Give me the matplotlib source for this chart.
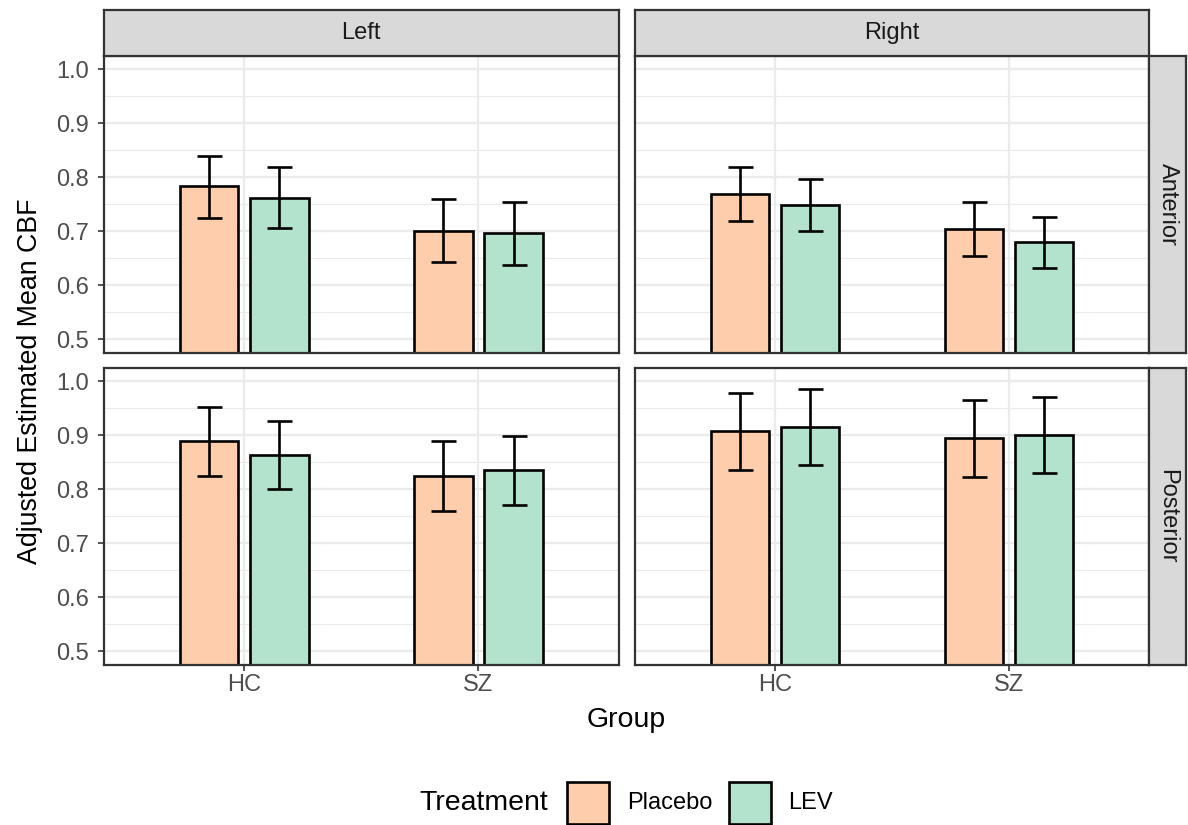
import numpy as np
import matplotlib
matplotlib.use('Agg')
import matplotlib.pyplot as plt
from matplotlib.patches import Rectangle

plt.rcParams['font.family'] = ['Liberation Sans', 'DejaVu Sans']

groups = ['HC', 'SZ']
treatments = ['Placebo', 'LEV']
sides = ['Left', 'Right']
regions = ['Anterior', 'Posterior']
colors = {'Placebo': '#FDCDAC', 'LEV': '#B3E2CD'}

# [region][side][group]
placebo_mean = [[[0.783, 0.700], [0.769, 0.704]],
                [[0.889, 0.825], [0.907, 0.894]]]
placebo_lo = [[[0.725, 0.642], [0.719, 0.654]],
              [[0.824, 0.759], [0.836, 0.822]]]
placebo_hi = [[[0.839, 0.759], [0.819, 0.754]],
              [[0.952, 0.890], [0.978, 0.965]]]
lev_mean = [[[0.762, 0.696], [0.749, 0.679]],
            [[0.863, 0.835], [0.915, 0.900]]]
lev_lo = [[[0.705, 0.637], [0.701, 0.631]],
          [[0.801, 0.770], [0.845, 0.829]]]
lev_hi = [[[0.819, 0.753], [0.797, 0.727]],
          [[0.927, 0.899], [0.985, 0.971]]]

stats = {'Placebo': (placebo_mean, placebo_lo, placebo_hi),
         'LEV': (lev_mean, lev_lo, lev_hi)}

W, H = 1188, 825
fig = plt.figure(figsize=(W / 100, H / 100), dpi=100)

def px_axes(x0, y0, x1, y1):
    # pixel box (top-left origin) -> figure axes
    return fig.add_axes([x0 / W, 1 - y1 / H, (x1 - x0) / W, (y1 - y0) / H])

col_x = [(103.5, 619), (635, 1149)]
row_y = [(55.5, 352.7), (367.7, 664.5)]
border = '#333333'
small, big = 17, 20.5
x = np.arange(len(groups))

for r, region in enumerate(regions):
    for c, side in enumerate(sides):
        ax = px_axes(col_x[c][0], row_y[r][0], col_x[c][1], row_y[r][1])
        ax.set_xlim(-0.6, 1.6)
        ax.set_ylim(0.475, 1.025)
        ax.set_yticks([0.5, 0.6, 0.7, 0.8, 0.9, 1.0])
        ax.set_yticks(np.arange(0.55, 1.0, 0.1), minor=True)
        ax.set_xticks(x)
        ax.grid(True, which='major', color='#EBEBEB', linewidth=1.6, zorder=0)
        ax.grid(True, which='minor', axis='y', color='#EBEBEB', linewidth=0.8, zorder=0)
        ax.set_axisbelow(True)
        for s in ax.spines.values():
            s.set_color(border)
            s.set_linewidth(1.6)
            s.set_zorder(5)
        for k, t in enumerate(treatments):
            m, lo, hi = (np.array(a[r][c]) for a in stats[t])
            xs = x + (-0.15 if k == 0 else 0.15)
            ax.bar(xs, m, width=0.25, color=colors[t], edgecolor='black',
                   linewidth=1.9, zorder=2)
            ax.errorbar(xs, m, yerr=[m - lo, hi - m], fmt='none', ecolor='black',
                        elinewidth=1.9, capsize=9, capthick=1.9, zorder=3)
        ax.tick_params(which='minor', length=0)
        ax.tick_params(which='major', color=border, length=4, width=1.2,
                       labelcolor='#4D4D4D', labelsize=small, pad=3)
        ax.tick_params(axis='y', pad=6.5)
        if c == 0:
            ax.set_yticklabels(['0.5', '0.6', '0.7', '0.8', '0.9', '1.0'])
        else:
            ax.tick_params(axis='y', length=0, labelleft=False)
        if r == 1:
            ax.set_xticklabels(groups)
        else:
            ax.tick_params(axis='x', length=0, labelbottom=False)

# facet strips
for c, side in enumerate(sides):
    sx = px_axes(col_x[c][0], 10, col_x[c][1], row_y[0][0])
    sx.set_facecolor('#D9D9D9')
    sx.set_xticks([]); sx.set_yticks([])
    for s in sx.spines.values():
        s.set_color(border); s.set_linewidth(1.6)
    sx.text(0.5, 0.5, side, ha='center', va='center', fontsize=small,
            color='#1A1A1A', transform=sx.transAxes)
for r, region in enumerate(regions):
    sx = px_axes(col_x[1][1], row_y[r][0], 1186, row_y[r][1])
    sx.set_facecolor('#D9D9D9')
    sx.set_xticks([]); sx.set_yticks([])
    for s in sx.spines.values():
        s.set_color(border); s.set_linewidth(1.6)
    sx.text(0.5, 0.5, region, ha='center', va='center', fontsize=small,
            rotation=-90, color='#1A1A1A', transform=sx.transAxes)

fig.text(30 / W, 1 - 381 / H, 'Adjusted Estimated Mean CBF', rotation=90,
         ha='center', va='center', fontsize=19.3)
fig.text(626 / W, 1 - 720 / H, 'Group', ha='center', va='center', fontsize=big)

# legend
fig.text(484 / W, 1 - 803 / H, 'Treatment', ha='center', va='center', fontsize=big)
legend_items = [('Placebo', 567, 627), ('LEV', 729, 788)]
for t, kx, lx in legend_items:
    fig.patches.append(Rectangle((kx / W, 1 - 824 / H), 42 / W, 42 / H,
                                 transform=fig.transFigure, facecolor=colors[t],
                                 edgecolor='black', linewidth=1.9))
    fig.text(lx / W, 1 - 803 / H, t, ha='left', va='center', fontsize=small)

fig.savefig('out.png', dpi=100)
